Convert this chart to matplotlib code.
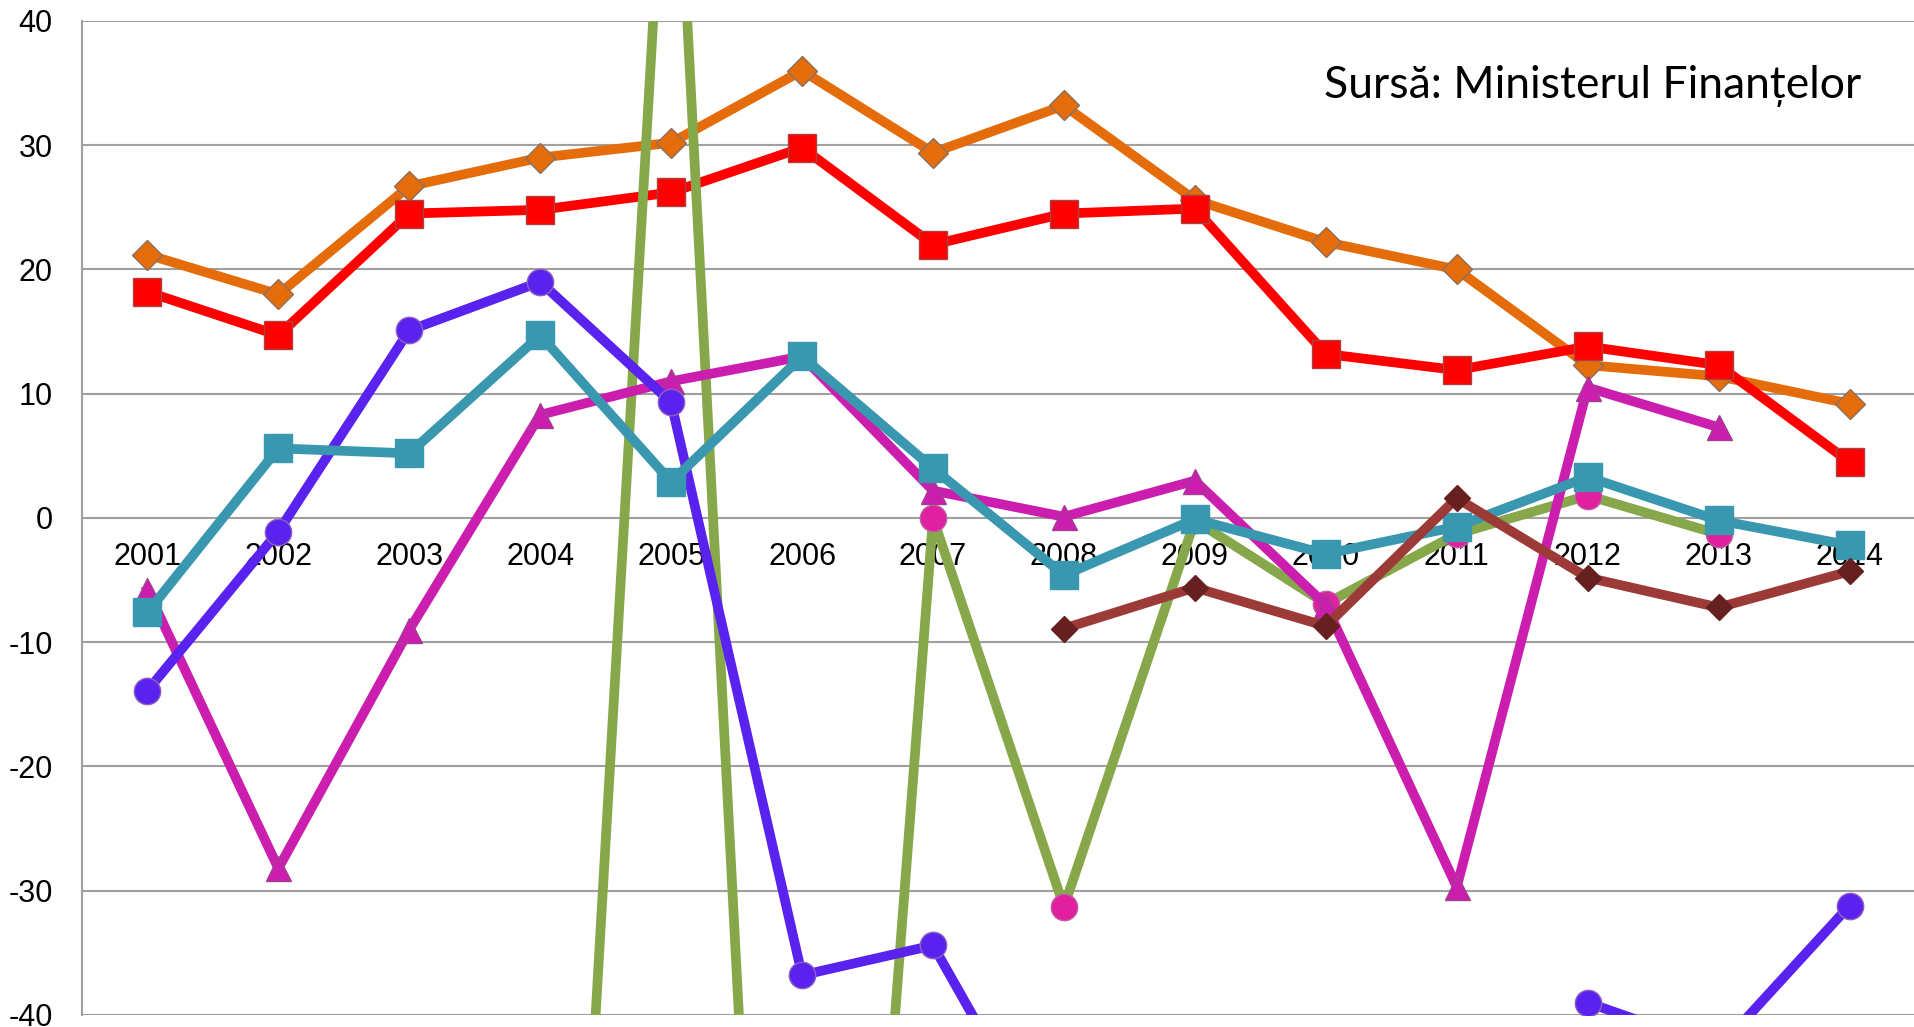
import numpy as np
import matplotlib.pyplot as plt

plt.rcParams['axes.unicode_minus'] = False

nan = np.nan
years = ['2001', '2002', '2003', '2004', '2005', '2006', '2007',
         '2008', '2009', '2010', '2011', '2012', '2013', '2014']

orange = [21.2, 18.0, 26.7, 29.0, 30.2, 36.0, 29.4, 33.2, 25.6, 22.2, 20.0, 12.3, 11.4, 9.2]
red = [18.2, 14.7, 24.5, 24.8, 26.2, 29.8, 22.0, 24.5, 24.9, 13.2, 11.9, 13.8, 12.3, 4.5]
green = [nan, nan, nan, -117, 65, -138, 0.0, -31.3, -0.2, -6.9, -1.3, 1.8, -1.3, nan]
magenta = [-5.8, -28.2, -9.0, 8.3, 11.0, 13.0, 2.2, 0.1, 3.0, -7.0, -29.7, 10.5, 7.3, nan]
purple = [-13.9, -1.1, 15.1, 19.0, 9.3, -36.8, -34.4, -53, nan, nan, nan, -39.0, -42.7, -31.2]
teal = [-7.6, 5.6, 5.2, 14.7, 2.9, 13.0, 4.0, -4.6, -0.1, -2.9, -0.7, 3.3, -0.2, -2.2]
brown = [nan, nan, nan, nan, nan, nan, nan, -8.9, -5.6, -8.7, 1.6, -4.8, -7.2, -4.3]

x = np.arange(len(years))

fig = plt.figure(figsize=(19.15, 10.27), dpi=100)
ax = fig.add_axes([0.0428, 0.0117, 0.9572, 0.9679])

lw = 7
ax.plot(x, orange, color='#E46C0A', lw=lw, marker='D', ms=15,
        mfc='#E46C0A', mec='#8a7060', mew=1, zorder=3)
ax.plot(x, red, color='#FF0000', lw=lw, marker='s', ms=20,
        mfc='#FF0000', mec='#b04040', mew=1, zorder=4)
ax.plot(x, green, color='#86A84A', lw=lw, marker='o', ms=19,
        mfc='#E0209E', mec='#c060a0', mew=1, zorder=5)
ax.plot(x, magenta, color='#CC1EAE', lw=lw, marker='^', ms=18,
        mfc='#CC1EAE', mec='#a04090', mew=1, zorder=6)
ax.plot(x, purple, color='#5A22EE', lw=lw, marker='o', ms=19,
        mfc='#5A22EE', mec='#9060c0', mew=1, zorder=7)
ax.plot(x, teal, color='#3A97B0', lw=lw, marker='s', ms=20,
        mfc='#3A97B0', mec='#3A97B0', mew=1, zorder=8)
ax.plot(x, brown, color='#9B3A36', lw=lw, marker='D', ms=13,
        mfc='#65201F', mec='#65201F', mew=1, zorder=9)

ax.set_xlim(-0.5, len(years) - 0.5)
ax.set_ylim(-40, 40)
ax.set_yticks(range(-40, 41, 10))
ax.set_xticks(x)
ax.set_xticklabels(years)

ax.grid(axis='y', color='#A0A0A0', lw=1.5, zorder=1)
ax.set_axisbelow(True)

for s in ['top', 'right']:
    ax.spines[s].set_visible(False)
ax.spines['left'].set_color('#A0A0A0')
ax.spines['left'].set_linewidth(1.5)
ax.spines['bottom'].set_position(('data', 0))
ax.spines['bottom'].set_color('none')

ax.tick_params(axis='y', length=0, pad=21, labelsize=22)
ax.tick_params(axis='x', length=0, pad=17, labelsize=22)
for lab in ax.get_xticklabels() + ax.get_yticklabels():
    lab.set_fontfamily('Liberation Sans')

fig.text(0.972, 0.9046, 'Sursă: Ministerul Finanțelor', ha='right', va='baseline',
         fontsize=32, family=['Lato', 'DejaVu Sans'], color='black')

fig.savefig('out.png', dpi=100, facecolor='white')
